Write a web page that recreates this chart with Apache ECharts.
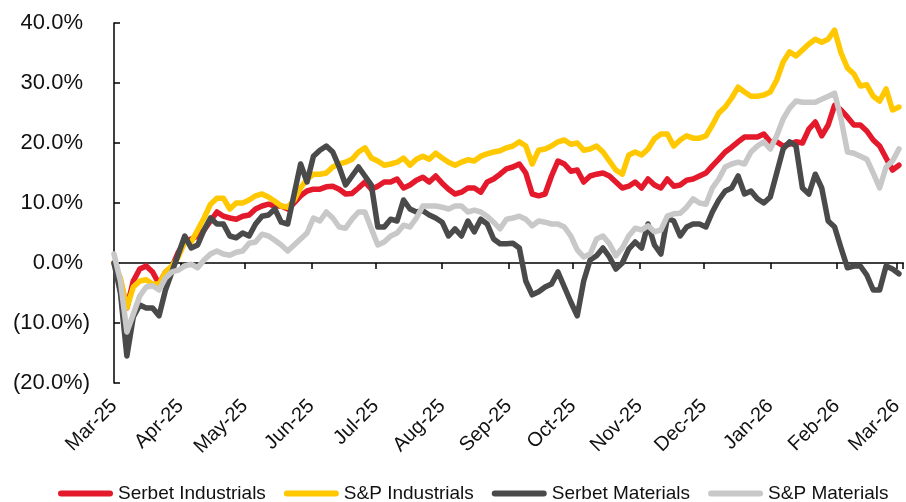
<!DOCTYPE html>
<html>
<head>
<meta charset="utf-8">
<script src="https://cdn.jsdelivr.net/npm/echarts@6/dist/echarts.min.js"></script>
<style>
  html, body { margin: 0; padding: 0; background: #fff; }
  #chart { width: 906px; height: 502px; }
</style>
</head>
<body>
<div id="chart"></div>
<script>
// Cumulative return since Mar-25, sampled every 3 calendar days
const startDate = [2025, 2, 1];
const stepDays = 3;
const axisMin = '2025-03-01';
const axisMax = '2026-03-04';

const seriesNames = ['Serbet Industrials', 'S&P Industrials', 'Serbet Materials', 'S&P Materials'];
const seriesColors = ['#E41A2C', '#FFC800', '#4A4A4A', '#C8C8C8'];
const monthNames = ['Jan', 'Feb', 'Mar', 'Apr', 'May', 'Jun', 'Jul', 'Aug', 'Sep', 'Oct', 'Nov', 'Dec'];
const yTicks = { min: -20, max: 40, step: 10 };

const serbetIndustrials = [
  0, -3, -7.5, -3, -1, -0.5, -1.5, -3.5, -1.5, -0.7,
  1.8, 3.5, 4, 4.5, 5.5, 7, 8.5, 7.8, 7.5, 7.3,
  7.8, 8, 9, 9.5, 9.8, 9.5, 9.5, 9, 10, 11.2,
  12, 12.3, 12.3, 12.7, 12.8, 12.3, 11.5, 11.6, 12.5, 13.5,
  12.3, 12.8, 13.5, 13.5, 14, 12.5, 13, 13.8, 14.3, 13.5,
  14.5, 13.3, 12.3, 11.5, 11.8, 12.5, 12.5, 11.8, 13.5, 14,
  14.8, 15.7, 16, 16.5, 15, 11.5, 11.2, 11.5, 14.5, 17,
  16.5, 15.3, 15.5, 13.5, 14.5, 14.8, 15, 14.5, 13.5, 12.5,
  12.8, 13.5, 12.5, 14, 13, 12.5, 14, 12.8, 13, 13.8,
  14, 14.5, 15, 16.2, 17.3, 18.5, 19.3, 20.2, 21, 21,
  21, 21.5, 20.2, 20.2, 19.5, 19.8, 20.2, 20, 22.3, 23.5,
  21.2, 23, 26.3, 25.5, 24.3, 23, 23, 22, 20.5, 19.5,
  17.5, 15.5, 16.3
];

const spIndustrials = [
  0, -2.5, -7.5, -4, -3, -2.8, -3.5, -3.5, -1.5, -0.5,
  1, 3.5, 3.5, 5.5, 7.5, 9.8, 10.8, 10.8, 9, 10,
  10, 10.5, 11.2, 11.5, 11, 10.3, 9.5, 9.3, 10.5, 12.5,
  14, 14.8, 14.8, 15, 16, 16.5, 16.8, 17.3, 18.5, 19.2,
  17.5, 17, 16.3, 16.5, 16.8, 17.5, 16.3, 17.3, 17.8, 17.3,
  18.3, 17.5, 16.8, 16.3, 16.8, 17.2, 17, 17.8, 18.2, 18.5,
  18.7, 19.2, 19.5, 20.2, 19.5, 16.5, 18.8, 19, 19.5, 20.2,
  20.5, 19.8, 20, 18.8, 19, 19.5, 18.5, 17, 15.5, 14.8,
  18, 18.5, 18, 19, 20.7, 21.5, 21.5, 19.5, 20.5, 21.2,
  20.8, 20.8, 21.2, 23, 25, 26, 27.5, 29.3, 28.5, 27.8,
  27.8, 28, 28.5, 30.5, 33.5, 35.2, 34.5, 35.5, 36.5, 37.3,
  36.8, 37.3, 38.8, 35, 32.5, 31.5, 29.5, 29.7, 27.8, 27,
  29, 25.5, 26
];

const serbetMaterials = [
  0, -5, -15.5, -9, -7, -7.5, -7.5, -8.8, -4.5, -1.5,
  1.5, 4.5, 2.5, 3, 5.5, 7.5, 6.5, 6.5, 4.5, 4.2,
  5, 4.5, 6.5, 7.8, 8, 9, 6.8, 6.5, 11.5, 16.5,
  13.5, 17.8, 18.8, 19.5, 18.5, 16, 13, 14.5, 16, 14.5,
  13, 6, 6, 7.3, 7, 10.5, 9, 8.5, 8.7, 8,
  7.5, 6.8, 4.5, 5.7, 4.5, 7, 5.2, 7.3, 6.5, 4,
  3.2, 3.2, 3.3, 2.5, -3, -5.3, -4.8, -4, -3.5, -1.5,
  -4, -6.5, -8.8, -3, 0.5, 1.2, 2.5, 1, -1, 0,
  2.3, 3.5, 2.5, 6.5, 3, 1.5, 7.5, 7, 4.5, 6,
  6.5, 6.5, 6, 8.5, 10.5, 12, 12.5, 14.5, 11.5, 12,
  10.7, 10, 11, 15, 19, 20.2, 19.5, 12.5, 11.5, 14.8,
  12.5, 7, 6, 2.5, -0.8, -0.5, -0.5, -2, -4.5, -4.5,
  -0.5, -1, -1.8
];

const spMaterials = [
  1.5, -3, -11.5, -8.5, -5.5, -4, -3.8, -4.5, -2.5, -1.5,
  -1.2, -0.5, -0.2, -0.8, 0.5, 1.5, 2, 1.5, 1.3, 1.8,
  2, 3.3, 3.5, 4.8, 4.5, 3.8, 3, 2, 3, 4,
  5, 7.5, 7, 8.5, 7.5, 6, 5.8, 7.3, 8.5, 8.5,
  5.7, 3, 3.5, 4.5, 5, 6.3, 6, 7.5, 9.5, 9.5,
  9.5, 9.3, 9, 9.5, 9.5, 8.5, 8.8, 8.5, 7.8, 6.8,
  5.7, 7.3, 7.5, 7.8, 7.3, 6.2, 7, 6.8, 6.5, 6.5,
  6, 4.5, 2.2, 1, 1.5, 4, 4.5, 3.2, 1.2, 2.5,
  4.5, 5.8, 5.5, 6.2, 5.2, 5.5, 7.8, 8.2, 8.3, 9.3,
  10.7, 10, 9.8, 12.5, 14, 16, 16.5, 16.8, 16.5, 18.5,
  19.5, 20.2, 19, 21.2, 24, 25.8, 27, 26.8, 26.8, 26.8,
  27.3, 27.8, 28.3, 24, 18.5, 18.3, 17.8, 17.3, 15, 12.5,
  16, 17, 19
];

const seriesValues = [serbetIndustrials, spIndustrials, serbetMaterials, spMaterials];

function sampleDate(i) {
  return new Date(startDate[0], startDate[1], startDate[2] + i * stepDays);
}

function percentLabel(v) {
  if (v < 0) return '(' + Math.abs(v).toFixed(1) + '%)';
  return '{p|' + v.toFixed(1) + '%}';
}

function monthLabel(value) {
  const d = new Date(value);
  return monthNames[d.getMonth()] + '-' + String(d.getFullYear()).slice(2);
}

const font = 'Liberation Sans, Arial, sans-serif';
const legendPill = 'path://M3,0 L52,0 A3,3 0 0 1 52,6 L3,6 A3,3 0 0 1 3,0 Z';

const chart = echarts.init(document.getElementById('chart'), null, { renderer: 'canvas' });

chart.setOption({
  animation: false,
  backgroundColor: '#ffffff',
  grid: { left: 114, right: 0, top: 23, bottom: 119, containLabel: false },
  legend: {
    left: 58,
    top: 484,
    width: 860,
    padding: 0,
    icon: legendPill,
    itemWidth: 55,
    itemHeight: 6,
    itemGap: 18,
    symbolKeepAspect: false,
    textStyle: { fontFamily: font, fontSize: 19, color: '#111' },
    data: seriesNames
  },
  xAxis: [
    {
      type: 'time',
      min: axisMin,
      max: axisMax,
      splitNumber: 12,
      minInterval: 28 * 86400000,
      maxInterval: 31 * 86400000,
      position: 'bottom',
      axisLine: { show: false, onZero: false },
      axisTick: { show: false },
      splitLine: { show: false },
      axisLabel: {
        rotate: 45,
        margin: 20,
        fontFamily: font,
        fontSize: 20,
        color: '#111',
        formatter: monthLabel,
        showMaxLabel: false,
        hideOverlap: false
      }
    },
    {
      type: 'time',
      min: axisMin,
      max: axisMax,
      splitNumber: 12,
      minInterval: 28 * 86400000,
      maxInterval: 31 * 86400000,
      position: 'top',
      axisLine: { show: true, onZero: true, lineStyle: { color: '#000', width: 1.5 } },
      axisTick: { show: true, inside: true, length: 6, lineStyle: { color: '#000', width: 1.5 } },
      axisLabel: { show: false },
      splitLine: { show: false }
    }
  ],
  yAxis: {
    type: 'value',
    min: yTicks.min,
    max: yTicks.max,
    interval: yTicks.step,
    axisLine: { show: true, lineStyle: { color: '#000', width: 1.5 } },
    axisTick: { show: true, inside: true, length: 6, lineStyle: { color: '#000', width: 1.5 } },
    splitLine: { show: false },
    axisLabel: {
      margin: 24,
      fontFamily: font,
      fontSize: 22,
      color: '#111',
      formatter: percentLabel,
      rich: { p: { fontFamily: font, fontSize: 22, color: '#111', padding: [0, 7, 0, 0] } }
    }
  },
  series: seriesNames.map((name, k) => ({
    name: name,
    type: 'line',
    xAxisIndex: 0,
    showSymbol: false,
    symbol: 'none',
    color: seriesColors[k],
    lineStyle: { width: 5.5, color: seriesColors[k], cap: 'round', join: 'round' },
    data: seriesValues[k].map((v, i) => [sampleDate(i), v]),
    z: 2 + k
  }))
});
</script>
</body>
</html>
